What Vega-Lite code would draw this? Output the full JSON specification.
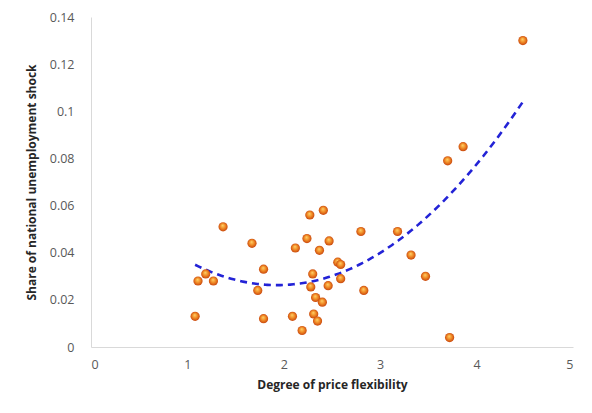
{
  "$schema": "https://vega.github.io/schema/vega-lite/v6.json",
  "autosize": "none",
  "width": 482,
  "height": 330,
  "padding": {"left": 91, "top": 17, "right": 19, "bottom": 66},
  "background": "#ffffff",
  "config": {
    "view": {"stroke": null},
    "font": "Open Sans"
  },
  "data": {
    "values": [
      {"x": 1.08, "y": 0.013},
      {"x": 1.11, "y": 0.028},
      {"x": 1.19, "y": 0.031},
      {"x": 1.27, "y": 0.028},
      {"x": 1.37, "y": 0.051},
      {"x": 1.67, "y": 0.044},
      {"x": 1.73, "y": 0.024},
      {"x": 1.79, "y": 0.033},
      {"x": 1.79, "y": 0.012},
      {"x": 2.09, "y": 0.013},
      {"x": 2.12, "y": 0.042},
      {"x": 2.19, "y": 0.007},
      {"x": 2.24, "y": 0.046},
      {"x": 2.27, "y": 0.056},
      {"x": 2.28, "y": 0.0255},
      {"x": 2.30, "y": 0.031},
      {"x": 2.31, "y": 0.014},
      {"x": 2.33, "y": 0.021},
      {"x": 2.35, "y": 0.011},
      {"x": 2.37, "y": 0.041},
      {"x": 2.40, "y": 0.019},
      {"x": 2.41, "y": 0.058},
      {"x": 2.46, "y": 0.026},
      {"x": 2.47, "y": 0.045},
      {"x": 2.56, "y": 0.036},
      {"x": 2.59, "y": 0.035},
      {"x": 2.59, "y": 0.029},
      {"x": 2.80, "y": 0.049},
      {"x": 2.83, "y": 0.024},
      {"x": 3.18, "y": 0.049},
      {"x": 3.32, "y": 0.039},
      {"x": 3.47, "y": 0.030},
      {"x": 3.70, "y": 0.079},
      {"x": 3.72, "y": 0.004},
      {"x": 3.86, "y": 0.085},
      {"x": 4.48, "y": 0.130}
    ]
  },
  "encoding": {
    "x": {
      "field": "x", "type": "quantitative",
      "scale": {"domain": [0, 5], "nice": false},
      "axis": {
        "title": "Degree of price flexibility",
        "values": [0, 1, 2, 3, 4, 5],
        "format": "d",
        "grid": false, "ticks": false,
        "domainColor": "#d9d9d9", "domainWidth": 1,
        "labelColor": "#595959", "labelFontSize": 12.5, "labelPadding": 11,
        "titleColor": "#262626", "titleFontSize": 12, "titleFontWeight": "bold", "titlePadding": 9
      }
    },
    "y": {
      "field": "y", "type": "quantitative",
      "scale": {"domain": [0, 0.14], "nice": false},
      "axis": {
        "title": "Share of national unemployment shock",
        "values": [0, 0.02, 0.04, 0.06, 0.08, 0.1, 0.12, 0.14],
        "labelExpr": "datum.value == 0 ? '0' : format(datum.value, '.2~f')",
        "grid": false, "ticks": false,
        "domainColor": "#d9d9d9", "domainWidth": 1,
        "labelColor": "#595959", "labelFontSize": 12.5, "labelPadding": 17,
        "titleColor": "#262626", "titleFontSize": 12, "titleFontWeight": "bold", "titlePadding": 11
      }
    }
  },
  "layer": [
    {
      "transform": [{"regression": "y", "on": "x", "method": "poly", "order": 2}],
      "mark": {"type": "line", "color": "#2323d6", "strokeWidth": 2.6, "strokeDash": [7, 5]}
    },
    {
      "mark": {
        "type": "point", "shape": "circle", "filled": true, "size": 85, "opacity": 1,
        "fill": {
          "gradient": "radial",
          "x1": 0.45, "y1": 0.35, "r1": 0,
          "x2": 0.5, "y2": 0.5, "r2": 0.55,
          "stops": [
            {"offset": 0, "color": "#ffd36a"},
            {"offset": 0.5, "color": "#f08a25"},
            {"offset": 1, "color": "#c23c0a"}
          ]
        }
      }
    }
  ]
}
